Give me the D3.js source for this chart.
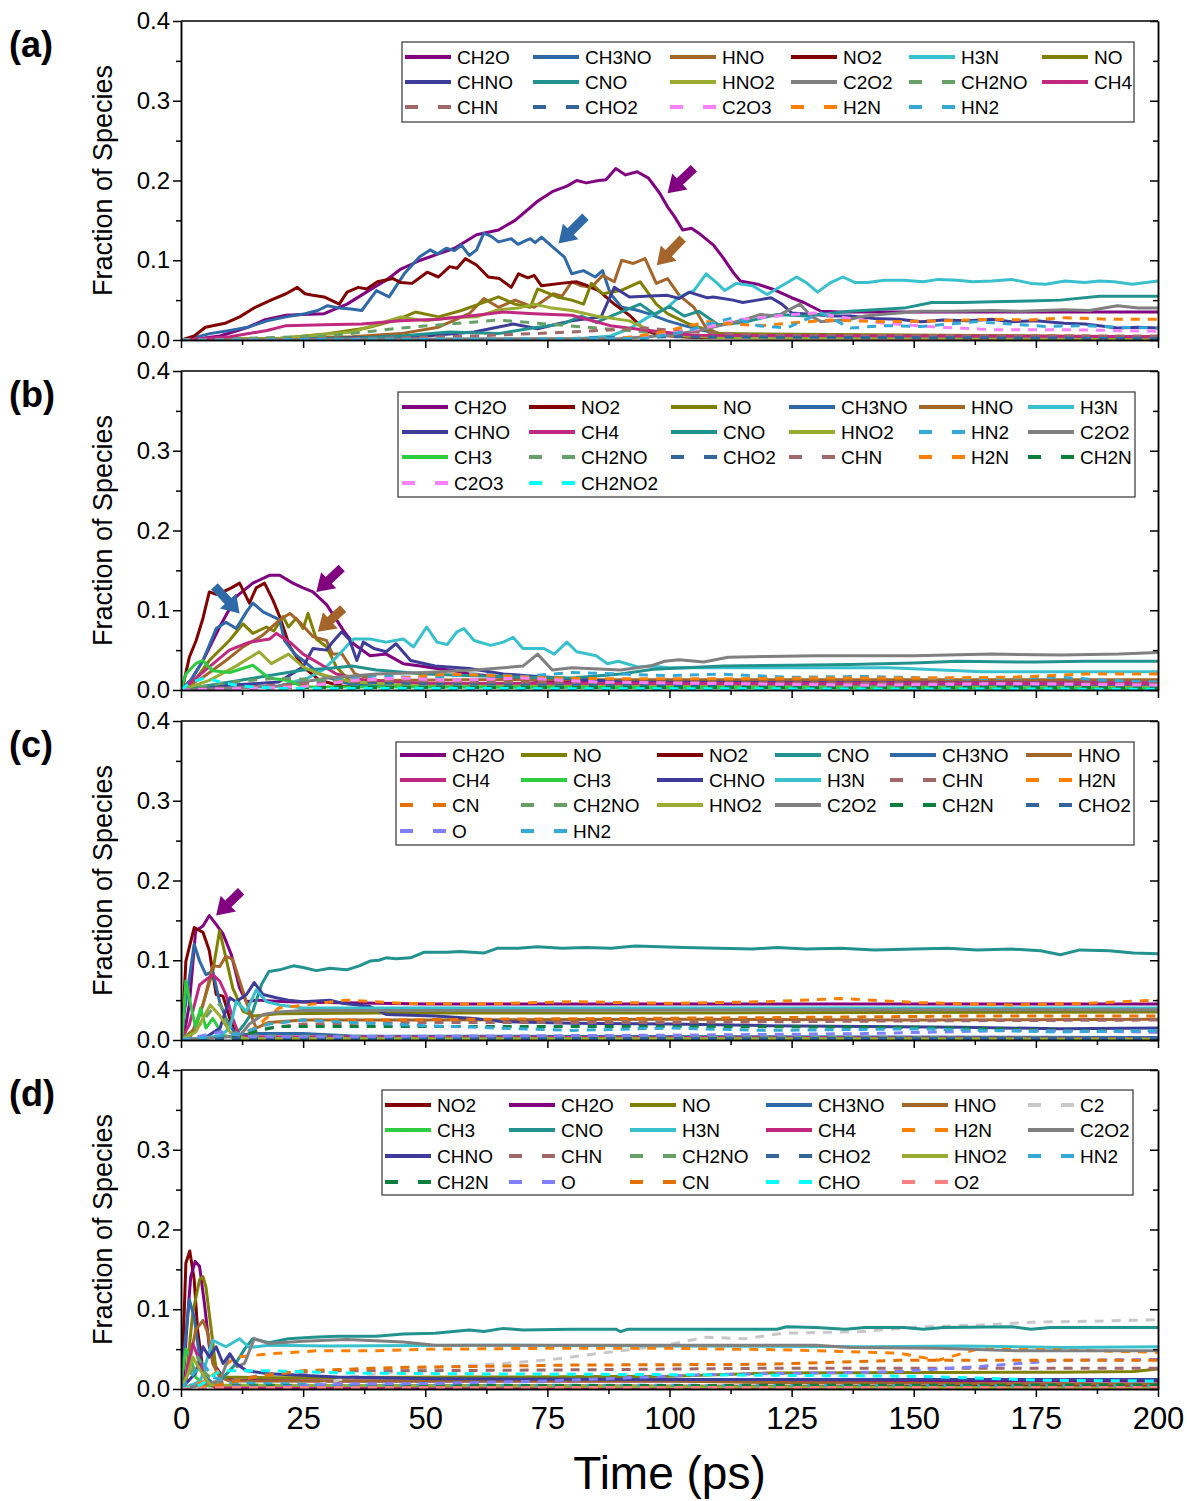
<!DOCTYPE html>
<html>
<head>
<meta charset="utf-8">
<script src="https://cdn.jsdelivr.net/npm/d3@7"></script>
<style>
  body { margin: 0; background: #fff; }
  svg text { font-family: "Liberation Sans", Arial, sans-serif; }
</style>
</head>
<body>
<svg id="chart" width="1187" height="1501"></svg>
<script>
// ---------- data: [time (ps), fraction] ----------
// panel (a)
const A_CH2O = [[0,0],[4,0.002],[8,0.005],[13.7,0.016],[17,0.025],[21.5,0.031],[25,0.032],[29.3,0.033],[34,0.045],[39.5,0.066],[42,0.075],[45,0.089],[49,0.1],[52.7,0.108],[56,0.115],[60.5,0.132],[65,0.138],[68.4,0.15],[73,0.174],[76,0.186],[79,0.193],[81,0.2],[83,0.197],[85.5,0.2],[87,0.201],[89,0.215],[91,0.207],[93.4,0.211],[95.7,0.203],[98,0.184],[99.6,0.167],[101,0.155],[102.7,0.138],[104.5,0.14],[106,0.134],[109,0.119],[111,0.103],[113,0.085],[114.5,0.074],[118,0.07],[121,0.064],[125,0.053],[127.5,0.047],[131,0.036],[135,0.035],[200,0.035]];
const A_CH3NO = [[0,0],[2.7,0.003],[5.9,0.008],[10,0.012],[13.7,0.016],[17.6,0.024],[21.5,0.029],[25.4,0.033],[28,0.037],[30,0.043],[32.5,0.04],[34.8,0.039],[37,0.037],[40,0.062],[42.6,0.054],[45.7,0.083],[48.8,0.104],[51,0.113],[52.5,0.108],[54.3,0.115],[56,0.112],[57.4,0.119],[59,0.106],[60.5,0.113],[62,0.134],[63.5,0.13],[65,0.123],[67.6,0.127],[69,0.12],[70,0.123],[71.5,0.127],[72.5,0.122],[73.8,0.129],[76,0.117],[78.5,0.104],[80,0.083],[82.4,0.087],[84.8,0.079],[86.3,0.087],[87.9,0.058],[90.2,0.041],[93,0.038],[95.7,0.033],[99.6,0.024],[103,0.018],[107,0.012],[112,0.006],[120,0.004],[150,0.003],[200,0.003]];
const A_HNO = [[0,0],[20,0.002],[35,0.004],[45,0.008],[52.7,0.016],[56,0.025],[59,0.033],[62,0.052],[65,0.041],[68.4,0.05],[72.3,0.041],[76.2,0.058],[78,0.055],[80,0.073],[82,0.068],[84,0.066],[86.3,0.081],[88.7,0.073],[90.2,0.1],[92.6,0.096],[95,0.102],[97.3,0.071],[99.6,0.077],[102,0.056],[105,0.041],[107.4,0.016],[110,0.008],[120,0.005],[200,0.004]];
const A_NO2 = [[0,0],[2.7,0.005],[5,0.016],[9,0.021],[12,0.029],[15.2,0.041],[18.4,0.05],[21.5,0.058],[23.8,0.066],[25.4,0.058],[27,0.056],[29.3,0.054],[32.4,0.045],[34,0.06],[36.3,0.066],[38,0.064],[40.2,0.073],[43.4,0.077],[45,0.072],[47.3,0.071],[50.4,0.085],[52.7,0.079],[55,0.092],[56.5,0.09],[58.2,0.102],[60.5,0.094],[62.9,0.079],[65.2,0.077],[67.6,0.066],[69.1,0.083],[71,0.078],[72.3,0.081],[73.8,0.068],[77.7,0.071],[81,0.073],[83.2,0.068],[85.5,0.062],[88.7,0.045],[91.8,0.031],[95,0.012],[98,0.006],[105,0.003],[200,0.002]];
const A_H3N = [[0,0],[80,0.001],[88,0.005],[92,0.015],[95.7,0.029],[99.6,0.041],[102,0.054],[105,0.062],[107.5,0.083],[109.8,0.071],[111.3,0.062],[113.7,0.071],[117,0.068],[120,0.057],[123,0.068],[126,0.079],[128,0.072],[130.3,0.06],[133,0.072],[135.5,0.079],[138,0.072],[140.6,0.072],[144,0.075],[148,0.075],[152,0.073],[155,0.076],[159,0.075],[162,0.073],[166,0.074],[170,0.076],[174,0.071],[177,0.07],[181,0.074],[185,0.072],[188,0.074],[191,0.073],[194.7,0.07],[200,0.074]];
const A_NO = [[0,0],[20,0.002],[30,0.008],[38,0.015],[44,0.025],[48,0.035],[52.7,0.029],[57.4,0.037],[61,0.045],[65,0.054],[68.4,0.045],[71.5,0.041],[73,0.064],[77,0.054],[80,0.05],[82.4,0.045],[84,0.071],[86.3,0.058],[90,0.062],[94,0.073],[97.3,0.045],[99.6,0.033],[104,0.02],[110,0.008],[200,0.004]];
const A_CHNO = [[0,0],[30,0.002],[50,0.005],[60,0.01],[64,0.015],[68,0.02],[73,0.014],[77,0.02],[80,0.024],[86,0.029],[88.7,0.066],[91.8,0.054],[95,0.055],[99.6,0.056],[102,0.052],[104,0.06],[107.7,0.053],[109,0.054],[113,0.05],[115,0.047],[118,0.05],[120.8,0.053],[123,0.045],[125,0.034],[129.6,0.032],[133,0.03],[137,0.03],[142,0.027],[147,0.026],[151.5,0.023],[156,0.025],[161,0.024],[166,0.026],[170,0.023],[175,0.024],[180.8,0.021],[185,0.02],[188,0.018],[191.7,0.015],[196,0.016],[200,0.015]];
const A_CNO = [[0,0],[35,0.002],[45,0.005],[55,0.01],[65,0.008],[72,0.015],[78,0.02],[82,0.03],[85,0.022],[90,0.035],[94,0.045],[97,0.032],[100,0.042],[103,0.03],[106,0.036],[110,0.019],[115,0.022],[122,0.032],[128,0.03],[137,0.036],[142,0.038],[148,0.04],[153.7,0.047],[160,0.047],[166,0.048],[173.5,0.049],[180,0.05],[188,0.055],[194,0.055],[200,0.055]];
const A_HNO2 = [[0,0],[20,0.002],[35,0.01],[45,0.029],[50,0.024],[55,0.028],[60.5,0.029],[65,0.038],[69,0.04],[72.3,0.045],[76,0.04],[80,0.037],[85,0.03],[91.8,0.024],[96,0.012],[100,0.006],[110,0.003],[200,0.002]];
const A_C2O2 = [[0,0],[90,0.002],[100,0.006],[106,0.012],[111,0.019],[115,0.025],[118.6,0.032],[122,0.03],[126.7,0.045],[129,0.03],[131,0.023],[137,0.026],[140,0.03],[145,0.033],[151.5,0.036],[158,0.036],[166,0.037],[172,0.036],[180.8,0.038],[186,0.037],[191.7,0.043],[196,0.04],[200,0.04]];
const A_CH2NO = [[0,0],[30,0.005],[45,0.015],[55,0.02],[65,0.025],[75,0.02],[85,0.015],[95,0.01],[105,0.005],[200,0.002]];
const A_CH4 = [[0,0],[10,0.004],[17.6,0.012],[21.5,0.018],[29.3,0.019],[37,0.02],[45,0.024],[52.7,0.026],[60.5,0.031],[66,0.035],[72.3,0.033],[80,0.031],[87.9,0.018],[95.7,0.012],[105,0.006],[200,0.004]];
const A_CHN = [[0,0],[40,0.002],[60,0.005],[80,0.01],[95,0.015],[105,0.01],[120,0.006],[200,0.005]];
const A_CHO2 = [[0,0],[80,0.002],[100,0.004],[200,0.002]];
const A_C2O3 = [[0,0],[90,0.002],[100,0.008],[107,0.015],[115,0.026],[122,0.03],[129.6,0.034],[136,0.028],[144,0.021],[155,0.016],[166,0.013],[180,0.013],[200,0.011]];
const A_H2N = [[0,0],[90,0.002],[97,0.008],[102,0.015],[107.7,0.023],[113,0.02],[119,0.018],[126,0.022],[133,0.025],[144,0.023],[155,0.024],[166,0.026],[174,0.025],[181,0.028],[190,0.026],[200,0.026]];
const A_HN2 = [[0,0],[95,0.002],[103,0.01],[108,0.02],[113,0.028],[118,0.018],[124,0.015],[131,0.034],[137,0.015],[144,0.018],[151.5,0.017],[157,0.02],[162.5,0.023],[170,0.02],[177,0.017],[185,0.018],[192,0.016],[200,0.015]];

// panel (b)
const B_CH2O = [[0,0],[2,0.012],[4.5,0.037],[7.9,0.079],[11.3,0.117],[14.7,0.134],[18.2,0.144],[20.2,0.144],[22.9,0.134],[25,0.128],[27,0.123],[29.8,0.107],[33.2,0.075],[35.3,0.058],[38.7,0.043],[42,0.045],[45.5,0.033],[49,0.03],[52.4,0.027],[56,0.024],[59,0.02],[63,0.018],[66,0.016],[73,0.012],[80,0.01],[100,0.009],[200,0.009]];
const B_NO2 = [[0,0],[0.5,0.008],[1.7,0.041],[3.1,0.062],[4.5,0.09],[5.8,0.123],[7.2,0.12],[8.6,0.123],[10.3,0.128],[12,0.134],[14,0.109],[15.4,0.128],[17.1,0.134],[18.8,0.113],[20.2,0.092],[22.3,0.054],[25,0.029],[28.4,0.012],[33,0.005],[200,0.003]];
const B_NO = [[0,0],[2,0.005],[5.8,0.037],[9.9,0.062],[12.7,0.083],[14.7,0.071],[17.5,0.079],[19,0.074],[20.9,0.092],[22,0.079],[23.6,0.09],[25,0.077],[26,0.096],[27.7,0.064],[29.8,0.054],[31.8,0.029],[35,0.008],[40,0.005],[200,0.004]];
const B_CH3NO = [[0,0],[2,0.012],[4.5,0.037],[7.2,0.077],[9.2,0.085],[11.3,0.077],[13.4,0.098],[14.7,0.109],[16.8,0.098],[18.2,0.094],[20.2,0.088],[21.2,0.062],[23.3,0.045],[25,0.037],[28.4,0.02],[31.8,0.012],[36,0.006],[200,0.004]];
const B_HNO = [[0,0],[4.5,0.016],[9.2,0.037],[12.7,0.054],[16.8,0.069],[20.2,0.088],[22.3,0.096],[24.3,0.085],[27,0.067],[29.8,0.062],[31,0.045],[33,0.045],[35.6,0.02],[40,0.012],[60,0.013],[200,0.013]];
const B_H3N = [[0,0],[20,0.005],[26,0.015],[29,0.025],[31.8,0.041],[35.3,0.064],[38.7,0.064],[42,0.06],[45.5,0.064],[47.6,0.054],[50.3,0.079],[52.4,0.06],[54.5,0.057],[56.5,0.073],[57.9,0.077],[60,0.062],[63.4,0.056],[66,0.06],[68,0.066],[70,0.052],[74.3,0.052],[76.4,0.045],[79,0.06],[81,0.048],[85,0.043],[87.3,0.033],[89.5,0.036],[93.5,0.029],[96,0.03],[100,0.028],[122,0.028],[145,0.028],[164,0.023],[180,0.023],[200,0.023]];
const B_CHNO = [[0,0],[10,0.006],[20,0.01],[25,0.029],[27,0.052],[29.8,0.05],[31,0.06],[32.9,0.073],[34.5,0.063],[36,0.037],[37.3,0.06],[39.5,0.052],[42,0.048],[44,0.058],[47,0.037],[52,0.03],[59,0.027],[66,0.02],[73,0.017],[80,0.014],[90,0.01],[200,0.008]];
const B_CH4 = [[0,0],[1.7,0.008],[5.8,0.029],[9.9,0.05],[14,0.06],[18.2,0.064],[19.5,0.071],[22.3,0.06],[25,0.045],[28.4,0.033],[31.8,0.02],[38,0.012],[50,0.008],[200,0.008]];
const B_CNO = [[0,0],[5,0.005],[10,0.01],[15,0.015],[20,0.02],[25,0.025],[30,0.027],[35,0.03],[40,0.025],[50,0.02],[60,0.018],[70,0.016],[80,0.015],[90,0.02],[96.7,0.026],[111,0.03],[125,0.031],[137,0.032],[150,0.034],[159,0.036],[175,0.035],[185,0.036],[200,0.036]];
const B_HNO2 = [[0,0],[5.8,0.012],[11,0.029],[16,0.048],[18.5,0.033],[22,0.045],[25,0.029],[28.4,0.02],[35,0.01],[50,0.005],[200,0.003]];
const B_HN2 = [[0,0],[20,0.005],[30,0.012],[40,0.018],[50,0.015],[60,0.02],[70,0.017],[80,0.022],[90,0.02],[100,0.018],[110,0.02],[125,0.016],[140,0.017],[160,0.014],[180,0.016],[190,0.012],[200,0.01]];
const B_C2O2 = [[0,0],[20,0.005],[30,0.015],[40,0.02],[50,0.022],[60,0.025],[70,0.03],[73,0.045],[76,0.025],[80,0.028],[90,0.025],[96,0.03],[99,0.036],[102,0.038],[107,0.035],[112,0.041],[120,0.042],[130,0.043],[150,0.043],[166,0.045],[180,0.044],[192,0.045],[200,0.047]];
const B_CH3 = [[0,0],[1,0.02],[3,0.033],[4.5,0.037],[6.5,0.024],[10,0.022],[14.7,0.031],[18,0.015],[22,0.012],[25,0.004],[200,0.002]];
const B_CH2NO = [[0,0],[10,0.01],[20,0.015],[30,0.012],[45,0.006],[200,0.004]];
const B_CHO2 = [[0,0],[20,0.005],[35,0.01],[50,0.008],[200,0.005]];
const B_CHN = [[0,0],[20,0.006],[40,0.012],[60,0.01],[200,0.008]];
const B_H2N = [[0,0],[25,0.004],[35,0.012],[45,0.015],[55,0.02],[65,0.018],[75,0.015],[90,0.014],[110,0.014],[130,0.015],[150,0.015],[170,0.016],[185,0.02],[200,0.02]];
const B_CH2N = [[0,0],[20,0.003],[200,0.003]];
const B_C2O3 = [[0,0],[25,0.004],[35,0.012],[45,0.015],[55,0.012],[70,0.015],[85,0.01],[110,0.008],[140,0.006],[170,0.008],[200,0.006]];
const B_CH2NO2 = [[0,0],[2,0.01],[5,0.015],[8,0.01],[12,0.005],[20,0.002],[200,0.001]];

// panel (c)
const C_CH2O = [[0,0],[0.5,0.002],[1.7,0.044],[3,0.137],[4.5,0.143],[5.8,0.156],[7.2,0.145],[8.6,0.133],[10.3,0.107],[12,0.065],[13.4,0.048],[15.4,0.05],[21.6,0.048],[30,0.047],[50,0.045],[100,0.045],[200,0.045]];
const C_NO = [[0,0],[3,0.015],[4.5,0.045],[6.5,0.086],[7.9,0.137],[9.2,0.103],[10.6,0.065],[12.7,0.036],[15,0.03],[20,0.033],[40,0.034],[100,0.034],[200,0.035]];
const C_NO2 = [[0,0],[0.3,0.015],[1,0.099],[2.7,0.141],[4.5,0.135],[5.8,0.112],[7.2,0.057],[8.6,0.055],[10,0.027],[11.3,0.006],[15,0.002],[200,0.002]];
const C_CNO = [[0,0],[11,0.005],[13,0.02],[14.7,0.036],[16.5,0.07],[18,0.086],[20.2,0.088],[23,0.093],[25,0.091],[27.7,0.087],[30.5,0.09],[33.9,0.088],[36.5,0.093],[38.7,0.099],[40.5,0.1],[42,0.103],[44,0.102],[47,0.103],[49.7,0.11],[54.5,0.11],[57,0.111],[62,0.109],[64.7,0.115],[69,0.115],[73,0.117],[78,0.115],[83,0.116],[88,0.115],[93,0.118],[98,0.117],[103,0.116],[110,0.115],[117,0.114],[122,0.116],[128,0.114],[135,0.115],[142,0.113],[150,0.114],[157,0.115],[163,0.113],[170,0.114],[176,0.112],[180,0.107],[184,0.113],[190,0.112],[195,0.109],[200,0.108]];
const C_CH3NO = [[0,0],[0.7,0.035],[2.7,0.12],[3.8,0.099],[5.1,0.082],[6.5,0.086],[7.9,0.048],[9.2,0.027],[11.3,0.006],[15,0.008],[25,0.008],[35,0.005],[200,0.003]];
const C_HNO = [[0,0],[2,0.005],[4.5,0.044],[6.5,0.093],[7.9,0.092],[9.2,0.105],[10.6,0.101],[12,0.074],[14,0.036],[15.4,0.015],[18,0.022],[25,0.025],[50,0.025],[100,0.026],[150,0.025],[200,0.026]];
const C_CH4 = [[0,0],[1.7,0.019],[3.8,0.069],[5,0.075],[6.5,0.082],[7.9,0.074],[9.2,0.057],[10.6,0.027],[12,0.004],[200,0.002]];
const C_CH3 = [[0,0],[0.3,0.01],[1,0.074],[2,0.044],[3,0.015],[4,0.04],[5.1,0.015],[6.5,0.027],[8.6,0.006],[12,0.001],[200,0.001]];
const C_CHNO = [[0,0],[5,0.003],[8,0.015],[10,0.053],[11.3,0.048],[13.4,0.057],[15,0.072],[16.8,0.057],[19.5,0.053],[22,0.05],[25,0.048],[30.5,0.05],[33,0.046],[38.7,0.042],[42,0.032],[52,0.03],[60,0.027],[66,0.023],[80,0.021],[100,0.02],[120,0.018],[140,0.017],[160,0.016],[180,0.014],[200,0.015]];
const C_H3N = [[0,0],[8,0.005],[10,0.015],[11.3,0.048],[13.4,0.036],[15.4,0.063],[17.5,0.048],[20.2,0.044],[25,0.04],[60,0.04],[120,0.04],[200,0.04]];
const C_CHN = [[0,0],[12,0.005],[18,0.015],[25,0.02],[50,0.022],[100,0.022],[150,0.024],[200,0.025]];
const C_H2N = [[0,0],[11,0.003],[15,0.015],[18,0.03],[20,0.04],[27,0.045],[34,0.05],[45,0.046],[60,0.045],[80,0.048],[100,0.046],[120,0.048],[135,0.052],[150,0.047],[170,0.044],[185,0.046],[200,0.05]];
const C_CN = [[0,0],[13,0.005],[17,0.02],[25,0.025],[40,0.025],[60,0.026],[90,0.027],[120,0.028],[160,0.03],[200,0.03]];
const C_CH2NO = [[0,0],[4,0.02],[6,0.036],[8,0.045],[9.5,0.02],[12,0.005],[200,0.002]];
const C_HNO2 = [[0,0],[3,0.01],[6,0.044],[8,0.03],[10,0.01],[13,0.002],[200,0.001]];
const C_C2O2 = [[0,0],[12,0.005],[14,0.02],[16.8,0.032],[20,0.035],[25,0.037],[60,0.037],[120,0.038],[200,0.038]];
const C_CH2N = [[0,0],[12,0.005],[16,0.012],[20,0.017],[100,0.017],[150,0.016],[200,0.01]];
const C_CHO2 = [[0,0],[10,0.002],[200,0.002]];
const C_O = [[0,0],[8,0.01],[10,0.008],[14,0.004],[30,0.004],[60,0.005],[100,0.006],[140,0.008],[170,0.012],[200,0.01]];
const C_HN2 = [[0,0],[12,0.008],[18,0.02],[25,0.025],[35,0.022],[50,0.018],[65,0.015],[80,0.012],[100,0.015],[120,0.012],[150,0.014],[180,0.01],[200,0.012]];

// panel (d)
const D_NO2 = [[0,0],[0.3,0.03],[1,0.158],[1.8,0.173],[2.7,0.137],[3.4,0.074],[4.5,0.023],[5.8,0.004],[200,0.003]];
const D_CH2O = [[0,0],[0.5,0.015],[1.4,0.095],[2,0.141],[2.9,0.16],[3.8,0.154],[4.8,0.107],[5.8,0.053],[7.2,0.027],[8.6,0.015],[11,0.011],[30,0.01],[100,0.01],[200,0.01]];
const D_NO = [[0,0],[1,0.01],[2.4,0.095],[3.8,0.137],[4.5,0.141],[5.1,0.128],[6.2,0.074],[7.2,0.023],[8.6,0.015],[20,0.014],[60,0.015],[100,0.016],[120,0.02],[180,0.021],[195,0.022],[200,0.025]];
const D_CH3NO = [[0,0],[0.4,0.03],[1.7,0.112],[2.7,0.09],[3.8,0.04],[5.1,0.015],[7,0.004],[200,0.002]];
const D_HNO = [[0,0],[1,0.01],[3,0.074],[4.5,0.086],[5.5,0.07],[6.5,0.032],[7.9,0.015],[10,0.01],[100,0.01],[120,0.008],[160,0.007],[200,0.006]];
const D_C2 = [[0,0],[18,0.001],[25,0.003],[28.4,0.006],[35,0.015],[45.5,0.023],[52.4,0.027],[66,0.032],[76,0.037],[83.5,0.043],[99.4,0.055],[107.4,0.065],[115.4,0.063],[123.4,0.07],[139.4,0.072],[151.4,0.078],[163.3,0.08],[175.3,0.084],[187.3,0.085],[200,0.087]];
const D_CH3 = [[0,0],[0.3,0.02],[1,0.05],[2,0.04],[3,0.015],[5,0.004],[200,0.001]];
const D_CNO = [[0,0],[8,0.01],[11,0.03],[13,0.05],[14.7,0.063],[18,0.058],[22,0.063],[27,0.065],[32,0.066],[40,0.066],[45.5,0.069],[52,0.07],[59,0.074],[62,0.072],[66,0.076],[70,0.074],[80,0.075],[89,0.075],[90,0.072],[91.5,0.075],[100,0.075],[122,0.075],[124,0.078],[130,0.077],[136,0.075],[140,0.077],[148,0.077],[152,0.075],[156,0.077],[170,0.078],[174,0.075],[178,0.077],[200,0.077]];
const D_H3N = [[0,0],[4,0.01],[6.5,0.061],[9.2,0.053],[12,0.063],[14,0.052],[18,0.055],[30,0.054],[60,0.055],[100,0.054],[140,0.053],[160,0.054],[180,0.052],[200,0.053]];
const D_CH4 = [[0,0],[0.8,0.01],[2.4,0.057],[3.5,0.04],[5.1,0.01],[7,0.002],[200,0.002]];
const D_H2N = [[0,0],[5,0.01],[8,0.025],[11.3,0.04],[18,0.044],[28,0.048],[40,0.048],[52,0.05],[75,0.051],[100,0.051],[125,0.049],[147,0.045],[155,0.036],[163,0.05],[180,0.049],[200,0.046]];
const D_C2O2 = [[0,0],[8,0.01],[10,0.044],[11.5,0.028],[13,0.032],[15,0.063],[18,0.057],[25,0.06],[34,0.062],[45.5,0.059],[52,0.055],[100,0.055],[130,0.055],[137,0.052],[155,0.051],[171,0.048],[200,0.048]];
const D_CHNO = [[0,0],[3,0.02],[4.5,0.053],[5.8,0.04],[7.2,0.053],[8.6,0.032],[10,0.044],[11.3,0.032],[13.4,0.023],[18,0.019],[32,0.015],[52,0.013],[100,0.012],[200,0.012]];
const D_CHN = [[0,0],[10,0.01],[18,0.019],[32,0.023],[52,0.023],[80,0.024],[120,0.026],[160,0.026],[200,0.026]];
const D_CH2NO = [[0,0],[2,0.02],[3.5,0.04],[5,0.02],[8,0.005],[200,0.002]];
const D_CHO2 = [[0,0],[10,0.002],[200,0.002]];
const D_HNO2 = [[0,0],[1.5,0.02],[2.4,0.04],[4,0.023],[6,0.005],[200,0.001]];
const D_HN2 = [[0,0],[2,0.015],[4.5,0.032],[6.5,0.015],[10,0.008],[30,0.005],[200,0.004]];
const D_CH2N = [[0,0],[10,0.004],[200,0.005]];
const D_O = [[0,0],[10,0.003],[18,0.002],[32,0.006],[52,0.007],[75,0.01],[107,0.018],[140,0.021],[147,0.022],[163,0.028],[180,0.036],[200,0.037]];
const D_CN = [[0,0],[8,0.005],[15,0.015],[25,0.023],[45,0.027],[80,0.03],[120,0.031],[147,0.036],[160,0.036],[200,0.036]];
const D_CHO = [[0,0],[4,0.005],[8,0.023],[18,0.023],[34,0.02],[60,0.019],[100,0.018],[150,0.016],[177,0.011],[200,0.01]];
const D_O2 = [[0,0],[10,0.002],[200,0.002]];

// legend order (rows of six) per panel
const legendA = ["CH2O","CH3NO","HNO","NO2","H3N","NO","CHNO","CNO","HNO2","C2O2","CH2NO","CH4","CHN","CHO2","C2O3","H2N","HN2"];
const legendB = ["CH2O","NO2","NO","CH3NO","HNO","H3N","CHNO","CH4","CNO","HNO2","HN2","C2O2","CH3","CH2NO","CHO2","CHN","H2N","CH2N","C2O3","CH2NO2"];
const legendC = ["CH2O","NO","NO2","CNO","CH3NO","HNO","CH4","CH3","CHNO","H3N","CHN","H2N","CN","CH2NO","HNO2","C2O2","CH2N","CHO2","O","HN2"];
const legendD = ["NO2","CH2O","NO","CH3NO","HNO","C2","CH3","CNO","H3N","CH4","H2N","C2O2","CHNO","CHN","CH2NO","CHO2","HNO2","HN2","CH2N","O","CN","CHO","O2"];

// arrows: [t tail, v tail, t head, v head, species colour key]
const arrowsA = [[105,0.2155,99.6,0.184,"CH2O"],[82.8,0.1546,77.3,0.121,"CH3NO"],[102.7,0.127,97.4,0.0937,"HNO"]];
const arrowsB = [[32.9,0.153,27.7,0.123,"CH2O"],[6.85,0.13,12,0.096,"CH3NO"],[33.2,0.102,28,0.073,"HNO"]];
const arrowsC = [[12.3,0.1865,7.2,0.156,"CH2O"]];
const arrowsD = [];

const yTicks = [0, 0.1, 0.2, 0.3, 0.4];
const xTicks = [0, 25, 50, 75, 100, 125, 150, 175, 200];

// ---------- styles ----------
const color = {
  CH2O: "#800080", CH3NO: "#2f69a8", HNO: "#a3652a", NO2: "#800000", H3N: "#38c0cc",
  NO: "#808000", CHNO: "#3d3d99", CNO: "#22928f", HNO2: "#9aab31", C2O2: "#808080",
  CH2NO: "#66a066", CH4: "#c0297f", CHN: "#a06868", CHO2: "#34659b", C2O3: "#ff80ff",
  H2N: "#ff8000", HN2: "#35a9d6", CH3: "#2ecc40", CH2N: "#0d7f3c", CH2NO2: "#00ffff",
  CN: "#e47100", O: "#8080ff", C2: "#c8c8c8", CHO: "#00ffff", O2: "#ff8080"
};
const dashed = new Set(["CH2NO","CHN","CHO2","C2O3","H2N","HN2","CH2N","CH2NO2","CN","O","C2","CHO","O2"]);

const seriesTables = {
  a: {CH2O:A_CH2O,CH3NO:A_CH3NO,HNO:A_HNO,NO2:A_NO2,H3N:A_H3N,NO:A_NO,CHNO:A_CHNO,CNO:A_CNO,HNO2:A_HNO2,C2O2:A_C2O2,CH2NO:A_CH2NO,CH4:A_CH4,CHN:A_CHN,CHO2:A_CHO2,C2O3:A_C2O3,H2N:A_H2N,HN2:A_HN2},
  b: {CH2O:B_CH2O,NO2:B_NO2,NO:B_NO,CH3NO:B_CH3NO,HNO:B_HNO,H3N:B_H3N,CHNO:B_CHNO,CH4:B_CH4,CNO:B_CNO,HNO2:B_HNO2,HN2:B_HN2,C2O2:B_C2O2,CH3:B_CH3,CH2NO:B_CH2NO,CHO2:B_CHO2,CHN:B_CHN,H2N:B_H2N,CH2N:B_CH2N,C2O3:B_C2O3,CH2NO2:B_CH2NO2},
  c: {CH2O:C_CH2O,NO:C_NO,NO2:C_NO2,CNO:C_CNO,CH3NO:C_CH3NO,HNO:C_HNO,CH4:C_CH4,CH3:C_CH3,CHNO:C_CHNO,H3N:C_H3N,CHN:C_CHN,H2N:C_H2N,CN:C_CN,CH2NO:C_CH2NO,HNO2:C_HNO2,C2O2:C_C2O2,CH2N:C_CH2N,CHO2:C_CHO2,O:C_O,HN2:C_HN2},
  d: {NO2:D_NO2,CH2O:D_CH2O,NO:D_NO,CH3NO:D_CH3NO,HNO:D_HNO,C2:D_C2,CH3:D_CH3,CNO:D_CNO,H3N:D_H3N,CH4:D_CH4,H2N:D_H2N,C2O2:D_C2O2,CHNO:D_CHNO,CHN:D_CHN,CH2NO:D_CH2NO,CHO2:D_CHO2,HNO2:D_HNO2,HN2:D_HN2,CH2N:D_CH2N,O:D_O,CN:D_CN,CHO:D_CHO,O2:D_O2}
};

// layout per panel
const panels = [
  {key: "a", top: 21, legend: legendA, arrows: arrowsA, box: [402, 42, 1134, 122], cols: [405,533,670,791,909,1042], rows: [57,82,107]},
  {key: "b", top: 371, legend: legendB, arrows: arrowsB, box: [398, 392, 1135, 497], cols: [402,529,671,789,919,1028], rows: [407,432,457,483]},
  {key: "c", top: 721, legend: legendC, arrows: arrowsC, box: [396, 742, 1134, 845], cols: [400,521,657,775,890,1026], rows: [755,780,805,831]},
  {key: "d", top: 1070, legend: legendD, arrows: arrowsD, box: [382, 1090, 1133, 1195], cols: [385,509,630,766,902,1028], rows: [1105,1130,1156,1182]}
];

const left = 181, right = 1158, ph = 319;
const svg = d3.select("#chart");
const x = d3.scaleLinear().domain([0, 200]).range([left, right]);

panels.forEach((p, i) => {
  const y = d3.scaleLinear().domain([0, 0.4]).range([p.top + ph, p.top]);
  const g = svg.append("g");
  const clipId = "clip-" + p.key;
  svg.append("clipPath").attr("id", clipId)
    .append("rect").attr("x", left).attr("y", p.top).attr("width", right - left).attr("height", ph);

  // data lines
  const line = d3.line().x(d => x(d[0])).y(d => y(d[1]));
  const lines = g.append("g").attr("clip-path", `url(#${clipId})`);
  p.legend.forEach(name => {
    lines.append("path")
      .datum(seriesTables[p.key][name])
      .attr("fill", "none")
      .attr("stroke", color[name])
      .attr("stroke-width", 3)
      .attr("stroke-linejoin", "round")
      .attr("stroke-dasharray", dashed.has(name) ? "9,8" : null)
      .attr("d", line);
  });

  // arrows
  p.arrows.forEach(a => {
    const x0 = x(a[0]), y0 = y(a[1]), x1 = x(a[2]), y1 = y(a[3]);
    const len = Math.hypot(x1 - x0, y1 - y0);
    const ux = (x1 - x0) / len, uy = (y1 - y0) / len;
    const nx = -uy, ny = ux;
    const hl = 17, hw = 11, sw = 4.5;
    const bx = x1 - ux * hl, by = y1 - uy * hl;
    const pts = [
      [x0 + nx * sw, y0 + ny * sw], [bx + nx * sw, by + ny * sw], [bx + nx * hw, by + ny * hw],
      [x1, y1],
      [bx - nx * hw, by - ny * hw], [bx - nx * sw, by - ny * sw], [x0 - nx * sw, y0 - ny * sw]
    ];
    g.append("polygon").attr("points", pts.map(q => q.join(",")).join(" ")).attr("fill", color[a[4]]);
  });

  // axes
  const axisStyle = sel => {
    sel.select(".domain").attr("stroke", "#000").attr("stroke-width", 1.5);
    sel.selectAll(".tick line").attr("stroke", "#000").attr("stroke-width", 1.5);
  };
  g.append("g").attr("transform", `translate(${left},0)`)
    .call(d3.axisLeft(y).tickValues(yTicks).tickFormat(d3.format(".1f")).tickSize(8).tickPadding(3).tickSizeOuter(0))
    .call(axisStyle)
    .call(s => s.selectAll(".tick text").attr("font-size", 24).attr("fill", "#000").attr("font-family", "Liberation Sans, Arial, sans-serif"));
  g.append("g").attr("transform", `translate(${left},0)`)
    .call(d3.axisLeft(y).tickValues([0.05, 0.15, 0.25, 0.35]).tickFormat("").tickSize(5).tickSizeOuter(0))
    .call(axisStyle);
  // right axis, ticks inward
  g.append("g").attr("transform", `translate(${right},0)`)
    .call(d3.axisRight(y).tickValues(yTicks).tickFormat("").tickSize(-8).tickSizeOuter(0))
    .call(axisStyle);
  g.append("g").attr("transform", `translate(${right},0)`)
    .call(d3.axisRight(y).tickValues([0.05, 0.15, 0.25, 0.35]).tickFormat("").tickSize(-5).tickSizeOuter(0))
    .call(axisStyle);
  // top line
  g.append("line").attr("x1", left).attr("x2", right).attr("y1", p.top).attr("y2", p.top)
    .attr("stroke", "#000").attr("stroke-width", 1.5);
  // bottom axis
  const showX = i === panels.length - 1;
  g.append("g").attr("transform", `translate(0,${p.top + ph})`)
    .call(d3.axisBottom(x).tickValues(xTicks).tickFormat(showX ? d3.format("d") : "").tickSize(8).tickPadding(10).tickSizeOuter(0))
    .call(axisStyle)
    .call(s => s.selectAll(".tick text").attr("font-size", 31).attr("fill", "#000").attr("font-family", "Liberation Sans, Arial, sans-serif"));
  g.append("g").attr("transform", `translate(0,${p.top + ph})`)
    .call(d3.axisBottom(x).tickValues(d3.range(12.5, 200, 25)).tickFormat("").tickSize(5).tickSizeOuter(0))
    .call(axisStyle);

  // y label
  g.append("text")
    .attr("transform", `translate(112,${p.top + ph / 2}) rotate(-90)`)
    .attr("text-anchor", "middle")
    .attr("font-size", 27)
    .text("Fraction of Species");
  // panel letter
  g.append("text").attr("x", 9).attr("y", p.top + 36)
    .attr("font-size", 36).attr("font-weight", "bold")
    .text(`(${p.key})`);

  // legend
  const lg = g.append("g");
  lg.append("rect")
    .attr("x", p.box[0]).attr("y", p.box[1])
    .attr("width", p.box[2] - p.box[0]).attr("height", p.box[3] - p.box[1])
    .attr("fill", "#fff").attr("stroke", "#333").attr("stroke-width", 1.2);
  p.legend.forEach((name, k) => {
    const cx = p.cols[k % 6], cy = p.rows[Math.floor(k / 6)];
    lg.append("line")
      .attr("x1", cx).attr("x2", cx + 46).attr("y1", cy).attr("y2", cy)
      .attr("stroke", color[name]).attr("stroke-width", 4)
      .attr("stroke-dasharray", dashed.has(name) ? "13,20" : null);
    lg.append("text").attr("x", cx + 52).attr("y", cy)
      .attr("dominant-baseline", "central")
      .attr("font-size", 19)
      .text(name);
  });
});

// x axis title
svg.append("text")
  .attr("x", (left + right) / 2).attr("y", 1489)
  .attr("text-anchor", "middle")
  .attr("font-size", 46)
  .text("Time (ps)");
</script>
</body>
</html>
